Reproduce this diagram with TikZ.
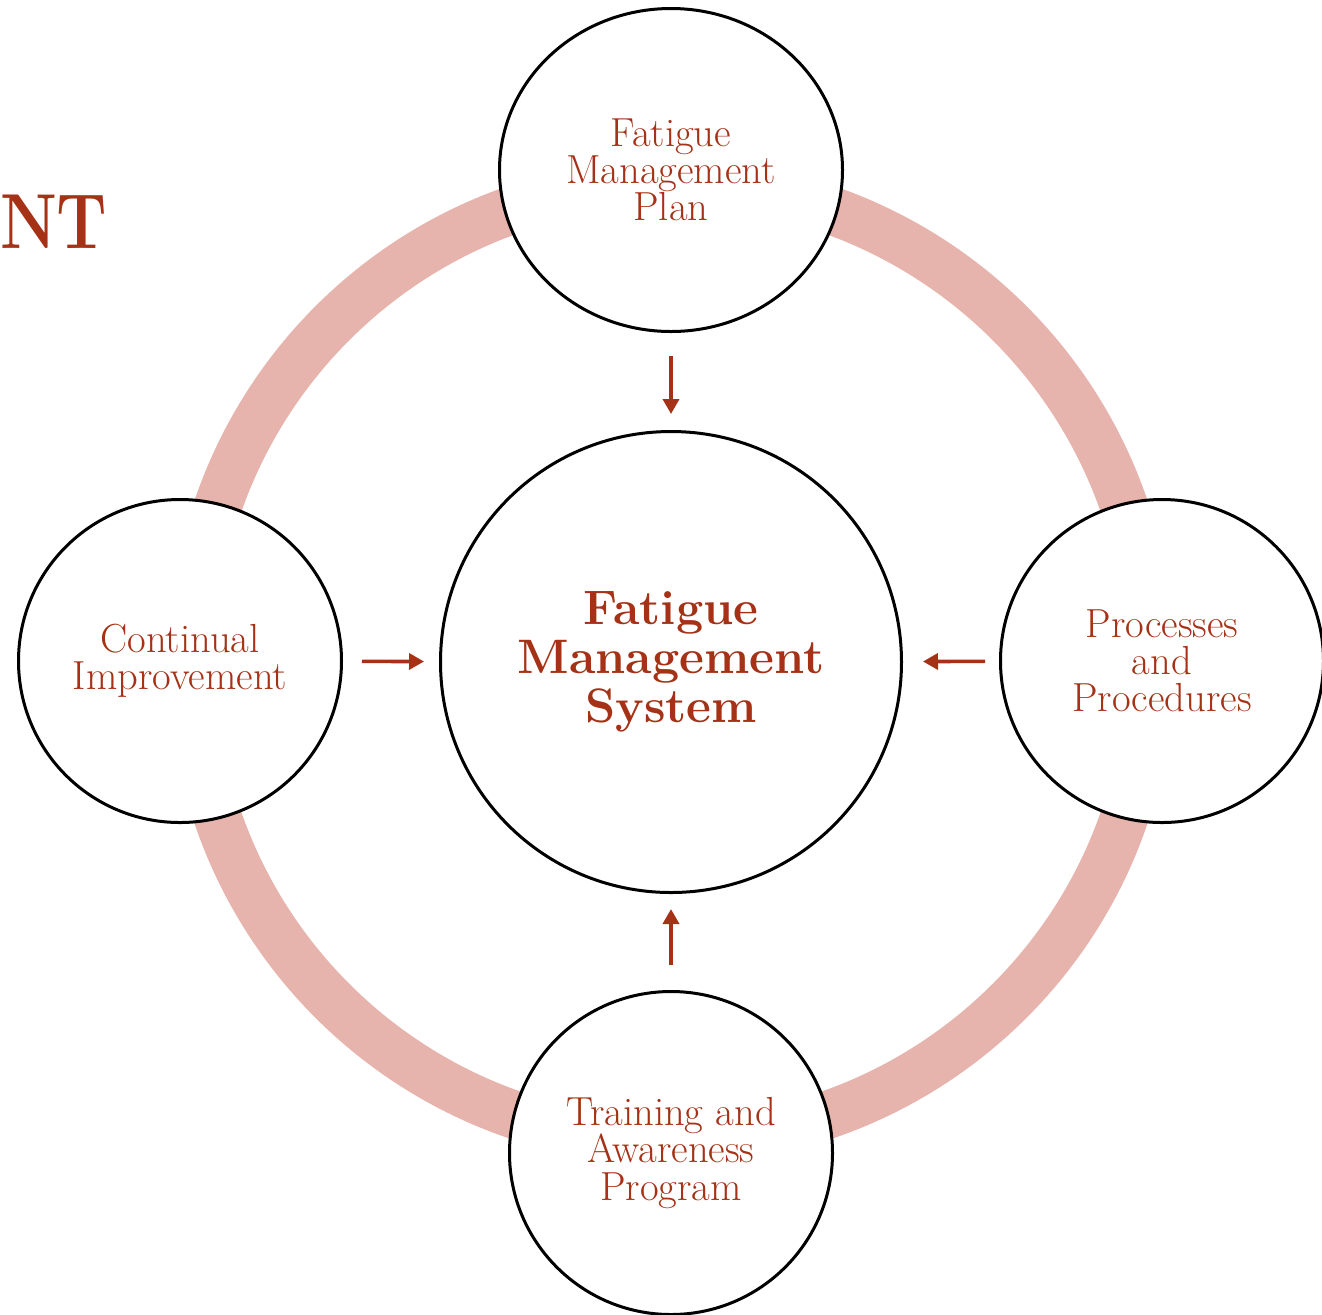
\documentclass[tikz,border=0pt]{standalone}
\usepackage{graphicx}
\usetikzlibrary{shapes.geometric,arrows.meta}
\definecolor{fmred}{RGB}{165,50,22}
\definecolor{fmpink}{RGB}{230,180,172}
\begin{document}
\begin{tikzpicture}[x=0.5pt,y=-0.5pt,
  bubble/.style={circle,draw=black,line width=1.5pt,fill=white,minimum size=161.5pt,
    inner sep=0pt,align=center,text=fmred,font=\fontsize{20.3}{18.6}\selectfont},
  hub/.style={circle,draw=black,line width=1.5pt,fill=white,minimum size=230.5pt,
    inner sep=0pt,align=center,text=fmred,font=\fontsize{24.2}{24.5}\selectfont\bfseries},
  feed/.style={-{Triangle[width=8pt,length=7.5pt]},draw=fmred,line width=1.8pt},
  ringstyle/.style={draw=fmpink,line width=24pt}
]
\useasboundingbox (0,0) rectangle (1322,1314);
\draw[ringstyle] (671,662) circle[radius=239.5pt];
\node[text=fmred,font=\fontsize{39}{39}\selectfont\bfseries,anchor=base east,inner sep=0pt] (title) at (108,248) {\scalebox{0.83}[1]{NT}};
\node[hub] (fms) at (671,662) {Fatigue\\Management\\System};
\node[bubble,ellipse,minimum width=171.5pt,minimum height=161.5pt] (plan) at (671,170) {Fatigue\\Management\\Plan};
\node[bubble] (ci) at (180,661) {Continual\\Improvement};
\node[bubble] (pp) at (1162,661) {Processes\\and\\Procedures};
\node[bubble] (tap) at (671,1153) {Training and\\Awareness\\Program};
\draw[feed,shorten <=11.5pt,shorten >=8pt] (plan) -- (fms);
\draw[feed,shorten <=9.5pt,shorten >=7.5pt] (ci) -- (fms);
\draw[feed,shorten <=7pt,shorten >=10pt] (pp) -- (fms);
\draw[feed,shorten <=12.5pt,shorten >=7.5pt] (tap) -- (fms);
\end{tikzpicture}
\end{document}
